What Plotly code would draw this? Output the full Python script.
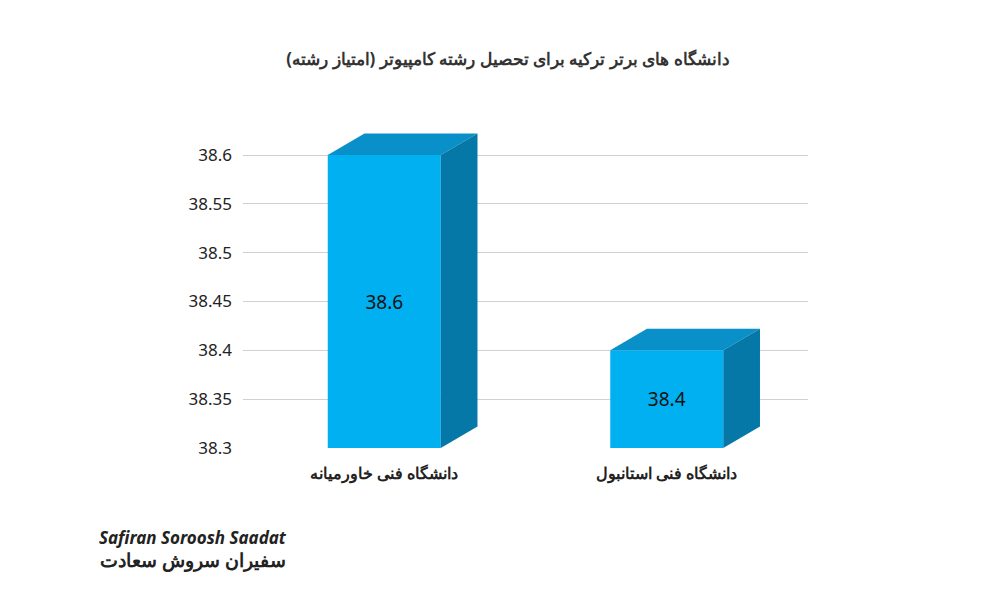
import plotly.graph_objects as go

categories = ["دانشگاه فنی خاورمیانه", "دانشگاه فنی استانبول"]
values = [38.6, 38.4]
title = "دانشگاه های برتر ترکیه برای تحصیل رشته کامپیوتر (امتیاز رشته)"
tickvals = [38.3, 38.35, 38.4, 38.45, 38.5, 38.55, 38.6]

base = 38.3
bw = 0.4
dx, dy = 0.13, 0.022

fig = go.Figure(go.Bar(
    x=list(range(len(categories))), y=[v - base for v in values], base=base,
    width=bw, marker=dict(color="#00B0F0", line=dict(width=0)),
    text=[str(v) for v in values], textposition="inside", insidetextanchor="middle",
    textfont=dict(size=19, color="#111", family="Noto Sans"),
))
shapes = []
for i, v in enumerate(values):
    l, r = i - bw / 2, i + bw / 2
    shapes.append(dict(type="path", xref="x", yref="y", line=dict(width=0), fillcolor="#0A90C8",
                       path=f"M{l},{v} L{l+dx},{v+dy} L{r+dx},{v+dy} L{r},{v} Z"))
    shapes.append(dict(type="path", xref="x", yref="y", line=dict(width=0), fillcolor="#0678A8",
                       path=f"M{r},{base} L{r+dx},{base+dy} L{r+dx},{v+dy} L{r},{v} Z"))
fig.update_layout(
    width=1000, height=600, paper_bgcolor="white", plot_bgcolor="white",
    margin=dict(l=235, r=200, t=108, b=160), shapes=shapes, showlegend=False,
    title=dict(text=f"<b>{title}</b>", x=0.5, y=0.925, xanchor="center",
               font=dict(size=17, color="#333", family="Noto Sans")),
    xaxis=dict(tickvals=list(range(len(categories))), ticktext=[f"<b>{c}</b>" for c in categories],
               range=[-0.5, 1.5], showgrid=False, ticklabelstandoff=14,
               tickfont=dict(size=16, color="#222", family="Noto Sans")),
    yaxis=dict(range=[base, 38.64], tickvals=tickvals, ticktext=[f"{t:g}" for t in tickvals],
               gridcolor="#D0D0D0", zeroline=False, ticklabelstandoff=10,
               tickfont=dict(size=17, color="#222", family="Noto Sans")),
    annotations=[
        dict(text="<b><i>Safiran Soroosh Saadat</i></b>", x=(185 - 235) / 565, y=(600 - 160 - 543) / 332,
             xref="paper", yref="paper", xanchor="center", showarrow=False,
             font=dict(size=17, color="#222", family="Noto Sans")),
        dict(text="<b>سفیران سروش سعادت</b>", x=(185 - 235) / 565, y=(600 - 160 - 567) / 332,
             xref="paper", yref="paper", xanchor="center", showarrow=False,
             font=dict(size=19, color="#222", family="Noto Sans")),
    ],
)
fig.write_html("out.html")
